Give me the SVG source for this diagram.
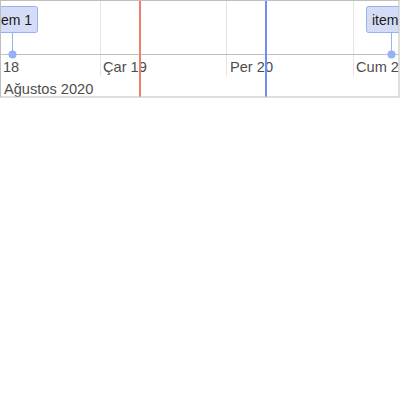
<svg xmlns="http://www.w3.org/2000/svg" width="400" height="400" viewBox="0 0 400 400">
<defs>
<style>
.grid{stroke:#e5e5e5;stroke-width:1}
.frame{fill:none;stroke:#bfbfbf;stroke-width:1}
.lbl{font-family:"Liberation Sans",Arial,sans-serif;font-size:14.6px;fill:#4d4d4d}
.ibox{fill:#d5ddf6;stroke:#97b0f8;stroke-width:1}
.itxt{font-family:"Liberation Sans",Arial,sans-serif;font-size:14px;fill:#1a1a1a}
.stem{stroke:#97b0f8;stroke-width:1}
.dot{fill:#97b0f8}
</style>
<clipPath id="c"><rect x="0.5" y="0.5" width="398.5" height="96.5"/></clipPath>
</defs>
<rect x="0" y="0" width="400" height="400" fill="#fff"/>
<g id="grid" clip-path="url(#c)">
<line class="grid" x1="100.5" y1="0" x2="100.5" y2="76"/>
<line class="grid" x1="226.5" y1="0" x2="226.5" y2="76"/>
<line class="grid" x1="353.5" y1="0" x2="353.5" y2="76"/>
</g>
<g id="axis" clip-path="url(#c)">
<line x1="0" y1="54.5" x2="400" y2="54.5" stroke="#bfbfbf"/>
<text class="lbl" x="3" y="72">18</text>
<text class="lbl" x="103" y="72">Çar 19</text>
<text class="lbl" x="230" y="72">Per 20</text>
<text class="lbl" x="356" y="72">Cum 21</text>
<text class="lbl" x="4" y="93.5">Ağustos 2020</text>
</g>
<g id="connectors" clip-path="url(#c)">
<line class="stem" x1="12.5" y1="33" x2="12.5" y2="54"/>
<line class="stem" x1="391.5" y1="33" x2="391.5" y2="54"/>
</g>
<g id="item1" clip-path="url(#c)">
<rect class="ibox" x="-11.5" y="6.5" width="49" height="26" rx="2"/>
<text class="itxt" x="-6" y="25">item 1</text>
<circle class="dot" cx="12.5" cy="54.5" r="4"/>
</g>
<g id="item2" clip-path="url(#c)">
<rect class="ibox" x="366.5" y="6.5" width="49" height="26" rx="2"/>
<text class="itxt" x="372" y="25">item 2</text>
<circle class="dot" cx="391.5" cy="54.5" r="4"/>
</g>
<g id="markers">
<line x1="140" y1="0" x2="140" y2="97" stroke="#f0806e" stroke-width="2"/>
<line x1="266" y1="0" x2="266" y2="97" stroke="#6e8ef5" stroke-width="2"/>
</g>
<rect class="frame" x="0.5" y="0.5" width="398.5" height="96.5"/>
</svg>
